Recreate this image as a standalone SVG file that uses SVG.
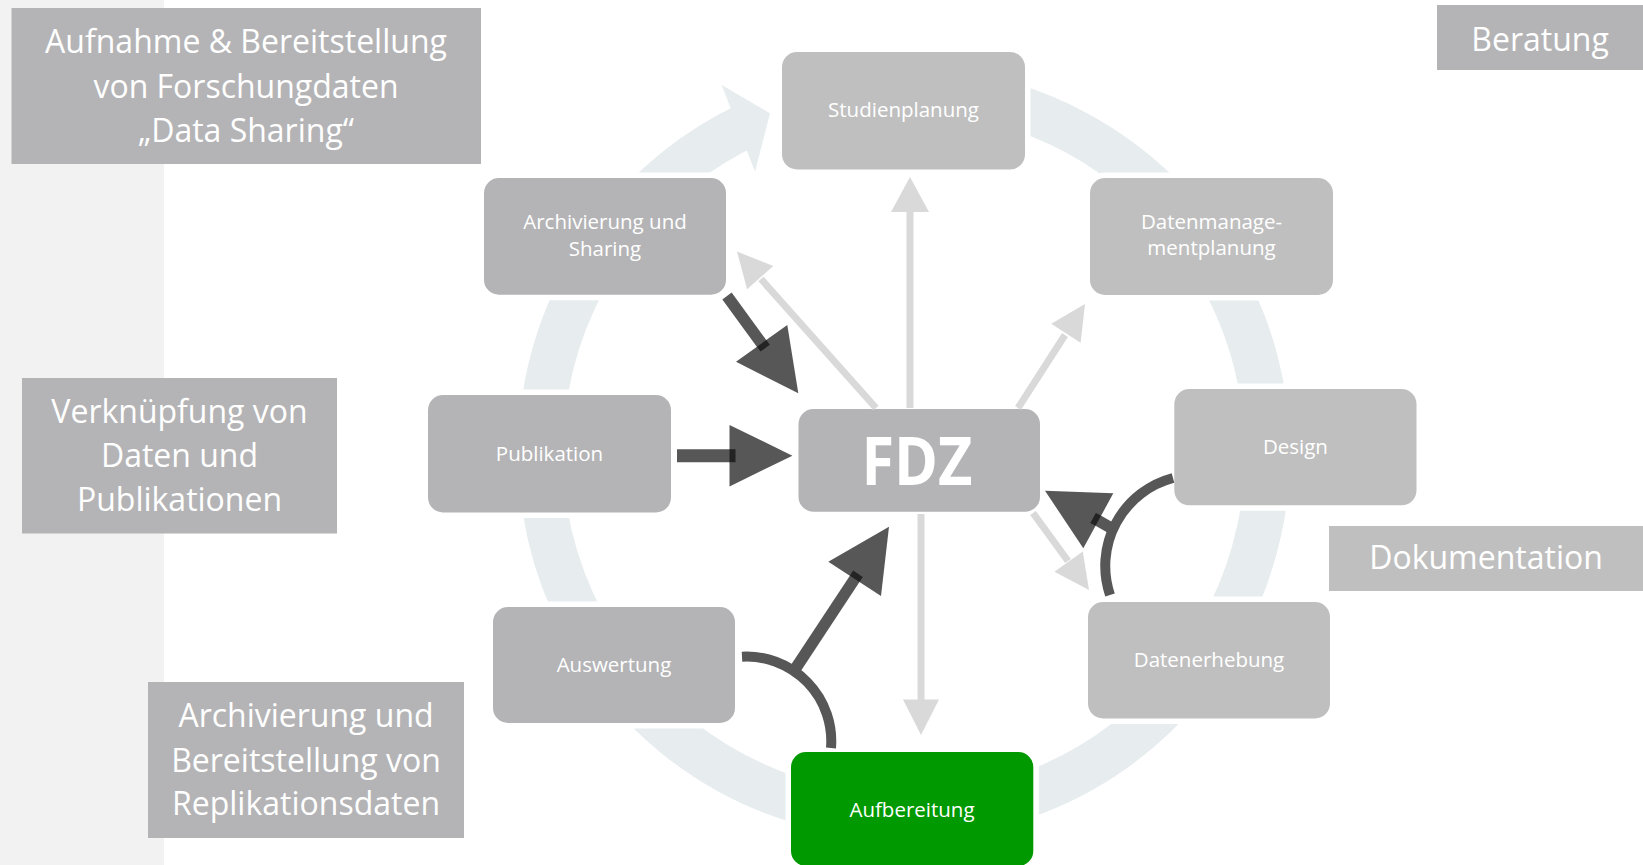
<svg xmlns="http://www.w3.org/2000/svg" width="1643" height="865" viewBox="0 0 1643 865">
<style>
  text { font-family: "Open Sans", "Noto Sans", "DejaVu Sans", sans-serif; fill: #ffffff; text-anchor: middle; }
  .lbl { font-size: 32px; }
  .nt { font-size: 20.5px; }
  .fdz { font-size: 66px; font-weight: bold; }
  .halo { fill: #ffffff; }
  .n1 { fill: #b4b4b6; }
  .n2 { fill: #bfbfbf; }
  .lb1 { fill: #b4b4b6; }
  .lb2 { fill: #bfbfbf; }
  .ring { fill: none; stroke: #e7ecef; stroke-width: 45; }
  .ringh { fill: #e7ecef; }
  .lt { stroke: #d9d9d9; stroke-width: 7; fill: none; }
  .lth { fill: #d9d9d9; }
  .dk { stroke: #575757; fill: none; }
  .dkh { fill: #575757; }
  .ov { stroke: #232323; fill: none; }
</style>

<rect x="0" y="0" width="1643" height="865" fill="#ffffff"/>
<rect id="left-band" x="0" y="0" width="164" height="865" fill="#f2f2f2"/>

<g id="cycle-ring">
  <path class="ring" d="M 816.06 100.30 A 363.5 363.5 0 1 1 750.38 123.56"/>
  <polygon class="ringh" points="721.7,85 770,113.3 755,171.7"/>
</g>

<g id="label-data-sharing">
  <rect class="lb1" x="11.5" y="8" width="469.5" height="156"/>
  <text class="lbl" x="246" y="53">Aufnahme &amp; Bereitstellung</text>
  <text class="lbl" x="246" y="97.5">von Forschungdaten</text>
  <text class="lbl" x="246" y="142">„Data Sharing“</text>
</g>
<g id="label-verknuepfung">
  <rect class="lb1" x="22" y="378" width="315" height="155.5"/>
  <text class="lbl" x="179.5" y="422.7">Verknüpfung von</text>
  <text class="lbl" x="179.5" y="467.3">Daten und</text>
  <text class="lbl" x="179.5" y="511">Publikationen</text>
</g>
<g id="label-replikation">
  <rect class="lb1" x="148" y="682" width="316" height="156"/>
  <text class="lbl" x="306" y="726.7">Archivierung und</text>
  <text class="lbl" x="306" y="771.7">Bereitstellung von</text>
  <text class="lbl" x="306" y="815">Replikationsdaten</text>
</g>
<g id="label-beratung">
  <rect class="lb1" x="1437" y="5" width="206" height="65"/>
  <text class="lbl" x="1540" y="50.7">Beratung</text>
</g>
<g id="label-dokumentation">
  <rect class="lb2" x="1329" y="526" width="314" height="65"/>
  <text class="lbl" x="1486" y="569.3">Dokumentation</text>
</g>

<g id="node-studienplanung">
  <rect class="halo" x="776.5" y="46.5" width="254" height="128.5" rx="20"/>
  <rect class="n2" x="782" y="52" width="243" height="117.5" rx="15"/>
  <text class="nt" x="903.5" y="117">Studienplanung</text>
</g>
<g id="node-datenmanagementplanung">
  <rect class="halo" x="1084.5" y="172.5" width="254" height="128" rx="20"/>
  <rect class="n2" x="1090" y="178" width="243" height="117" rx="15"/>
  <text class="nt" x="1211.5" y="229">Datenmanage-</text>
  <text class="nt" x="1211.5" y="255">mentplanung</text>
</g>
<g id="node-design">
  <rect class="halo" x="1168.8" y="383.5" width="253.2" height="127.3" rx="20"/>
  <rect class="n2" x="1174.3" y="389" width="242.2" height="116.3" rx="15"/>
  <text class="nt" x="1295.4" y="454">Design</text>
</g>
<g id="node-datenerhebung">
  <rect class="halo" x="1082.5" y="596.5" width="253" height="127.5" rx="20"/>
  <rect class="n2" x="1088" y="602" width="242" height="116.5" rx="15"/>
  <text class="nt" x="1209" y="666.5">Datenerhebung</text>
</g>
<g id="node-aufbereitung">
  <rect class="halo" x="785.5" y="746.5" width="253.3" height="125" rx="20"/>
  <rect x="791" y="752" width="242.3" height="114" rx="15" fill="#009900"/>
  <text class="nt" x="912" y="817.3">Aufbereitung</text>
</g>
<g id="node-auswertung">
  <rect class="halo" x="487.5" y="601.5" width="253" height="127" rx="20"/>
  <rect class="n1" x="493" y="607" width="242" height="116" rx="15"/>
  <text class="nt" x="614" y="672">Auswertung</text>
</g>
<g id="node-publikation">
  <rect class="halo" x="422.5" y="389.5" width="254" height="128.5" rx="20"/>
  <rect class="n1" x="428" y="395" width="243" height="117.5" rx="15"/>
  <text class="nt" x="549.5" y="461">Publikation</text>
</g>
<g id="node-archivierung-sharing">
  <rect class="halo" x="478.5" y="172.5" width="253" height="127.7" rx="20"/>
  <rect class="n1" x="484" y="178" width="242" height="116.7" rx="15"/>
  <text class="nt" x="605" y="229">Archivierung und</text>
  <text class="nt" x="605" y="255.5">Sharing</text>
</g>
<g id="node-fdz">
  <rect class="halo" x="793" y="403.5" width="252.5" height="113.7" rx="20"/>
  <rect class="n1" x="798.5" y="409" width="241.5" height="102.7" rx="15"/>
  <text class="fdz" x="917" y="485" textLength="111" lengthAdjust="spacingAndGlyphs">FDZ</text>
</g>

<g id="connectors">
  <!-- light arrows from FDZ -->
  <line class="lt" x1="910" y1="408" x2="910" y2="210"/>
  <polygon class="lth" points="891,212 910,177 929,212"/>
  <line class="lt" x1="876" y1="408" x2="761" y2="279"/>
  <polygon class="lth" points="773.3,266.1 737,251.5 747.1,289.3"/>
  <line class="lt" x1="1018" y1="408" x2="1065" y2="335"/>
  <polygon class="lth" points="1080.6,342.8 1085,304 1051.2,323.8"/>
  <line class="lt" x1="1033" y1="513" x2="1068" y2="561"/>
  <polygon class="lth" points="1082.8,551.4 1089,590 1054.4,571.8"/>
  <line class="lt" x1="921" y1="514" x2="921" y2="701"/>
  <polygon class="lth" points="903,699.5 921,735 939,699.5"/>

  <!-- Archivierung und Sharing -> FDZ -->
  <line class="dk" stroke-width="11.5" x1="727" y1="296" x2="762" y2="344"/>
  <polygon class="dkh" points="736,361.7 787.3,325 798.3,393.3"/>
  <line class="ov" stroke-width="11.5" x1="761.65" y1="343.35" x2="765.2" y2="348.2"/>

  <!-- Publikation -> FDZ -->
  <line class="dk" stroke-width="13" x1="677" y1="455.7" x2="730" y2="455.7"/>
  <polygon class="dkh" points="729.5,425 792.4,455.7 729.5,486.5"/>
  <line class="ov" stroke-width="13" x1="729.5" y1="455.7" x2="735.5" y2="455.7"/>

  <!-- Auswertung + Aufbereitung -> FDZ -->
  <path class="dk" stroke-width="10" d="M 742 656.7 A 84.6 84.6 0 0 1 831 748"/>
  <line class="dk" stroke-width="11.5" x1="795.2" y1="669" x2="855" y2="578.3"/>
  <polygon class="dkh" points="828.3,561.7 889,526.7 881,596"/>
  <line class="ov" stroke-width="11.5" x1="854.65" y1="578.85" x2="858" y2="573.8"/>

  <!-- Design + Datenerhebung -> FDZ -->
  <path class="dk" stroke-width="10" d="M 1173 478 A 91 91 0 0 0 1110 595"/>
  <line class="dk" stroke-width="11.5" x1="1113.3" y1="529.3" x2="1098" y2="520.6"/>
  <polygon class="dkh" points="1045,490.7 1113.3,493.3 1083.3,548.3"/>
  <line class="ov" stroke-width="11.5" x1="1098.3" y1="520.8" x2="1093.1" y2="517.9"/>
</g>
</svg>
